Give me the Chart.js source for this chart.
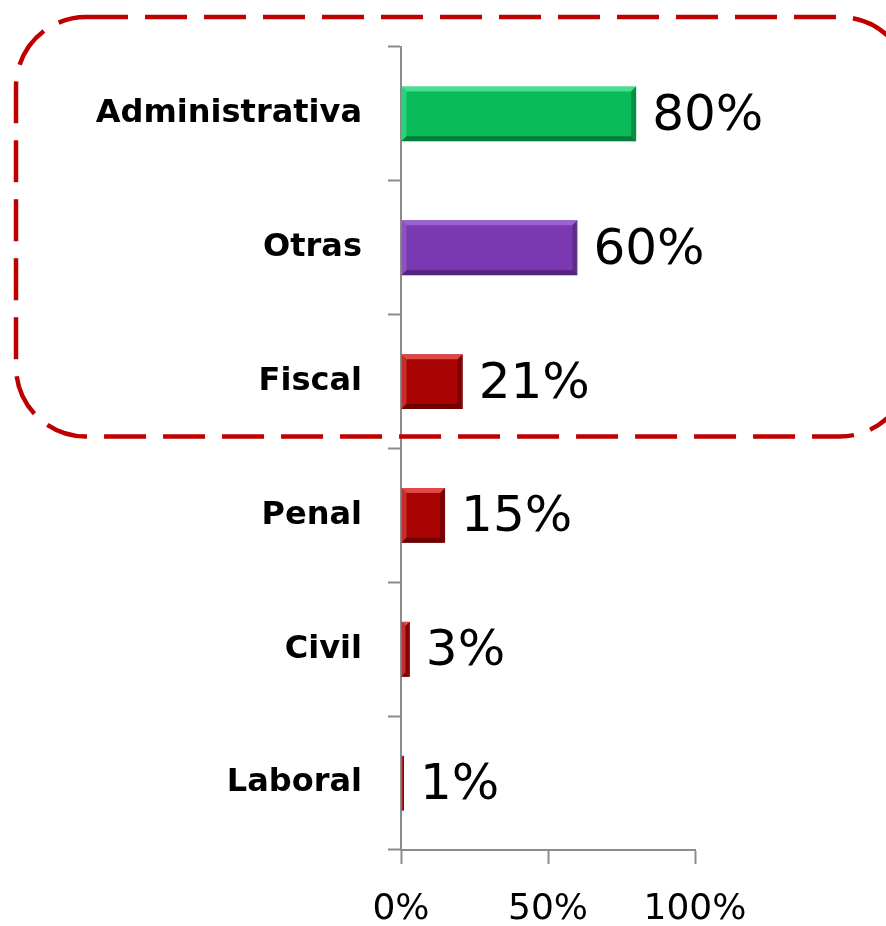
<!DOCTYPE html>
<html>
<head>
<meta charset="utf-8">
<script src="https://cdn.jsdelivr.net/npm/chart.js@4"></script>
<style>
  body { margin: 0; background: #fff; }
  #wrap { width: 886px; height: 926px; }
</style>
</head>
<body>
<div id="wrap"><canvas id="areaChart" width="886" height="926"></canvas></div>
<script>
// datos del gráfico
const categories = ['Administrativa', 'Otras', 'Fiscal', 'Penal', 'Civil', 'Laboral'];
const values = [80, 60, 21, 15, 3, 1];
const xTicks = [0, 50, 100];

// colores de las barras
const barColors = ['#0abb5a', '#7a39b1', '#a70303', '#a70303', '#a70303', '#a70303'];
const lightEdge = ['#45e08e', '#9a62cf', '#e04848', '#e04848', '#e04848', '#e04848'];
const darkEdge = ['#067c3b', '#54237e', '#6e0000', '#6e0000', '#6e0000', '#6e0000'];

// bisel tipo 3D sobre cada barra
const bevelPlugin = {
  id: 'bevel',
  afterDatasetsDraw(chart) {
    const ctx = chart.ctx;
    chart.getDatasetMeta(0).data.forEach((bar, i) => {
      const p = bar.getProps(['x', 'y', 'base', 'height'], true);
      const l = p.base, r = p.x, t = p.y - p.height / 2, b = p.y + p.height / 2;
      const w = r - l;
      const e = Math.min(5, w / 2);
      ctx.save();
      // arriba
      ctx.fillStyle = lightEdge[i];
      ctx.beginPath();
      ctx.moveTo(l, t); ctx.lineTo(r, t); ctx.lineTo(r - e, t + e); ctx.lineTo(l + e, t + e);
      ctx.fill();
      // izquierda
      ctx.globalAlpha = 0.6;
      ctx.beginPath();
      ctx.moveTo(l, t); ctx.lineTo(l + e, t + e); ctx.lineTo(l + e, b - e); ctx.lineTo(l, b);
      ctx.fill();
      ctx.globalAlpha = 1;
      // abajo
      ctx.fillStyle = darkEdge[i];
      ctx.beginPath();
      ctx.moveTo(l, b); ctx.lineTo(r, b); ctx.lineTo(r - e, b - e); ctx.lineTo(l + e, b - e);
      ctx.fill();
      // derecha
      ctx.globalAlpha = 0.7;
      ctx.beginPath();
      ctx.moveTo(r, t); ctx.lineTo(r - e, t + e); ctx.lineTo(r - e, b - e); ctx.lineTo(r, b);
      ctx.fill();
      ctx.restore();
    });
  }
};

// etiquetas de porcentaje al final de la barra
const valueLabels = {
  id: 'valueLabels',
  afterDatasetsDraw(chart) {
    const ctx = chart.ctx;
    ctx.save();
    ctx.font = '50px "DejaVu Sans"';
    ctx.fillStyle = '#000';
    ctx.textBaseline = 'middle';
    ctx.textAlign = 'left';
    chart.getDatasetMeta(0).data.forEach((bar, i) => {
      ctx.fillText(values[i] + '%', bar.x + 16, bar.y + 3);
    });
    ctx.restore();
  }
};

// recuadro punteado alrededor de las tres primeras categorías
const highlightBox = {
  id: 'highlightBox',
  afterDraw(chart) {
    const ctx = chart.ctx;
    const ys = chart.scales.y;
    const half = (ys.getPixelForValue(3) - ys.getPixelForValue(2)) / 2;
    const top = chart.chartArea.top - 30;
    const bottom = ys.getPixelForValue(2) + half - 12;
    const left = 16;
    const right = chart.width + 24;
    ctx.save();
    ctx.strokeStyle = '#c00000';
    ctx.lineWidth = 4.5;
    ctx.setLineDash([42, 17]);
    ctx.beginPath();
    ctx.roundRect(left, top, right - left, bottom - top, 70);
    ctx.stroke();
    ctx.restore();
  }
};

const ctx = document.getElementById('areaChart').getContext('2d');
const areaChart = new Chart(ctx, {
  type: 'bar',
  data: {
    labels: categories,
    datasets: [{
      data: values,
      backgroundColor: barColors,
      borderColor: darkEdge,
      borderWidth: 1,
      barPercentage: 0.41,
      categoryPercentage: 1
    }]
  },
  options: {
    indexAxis: 'y',
    responsive: false,
    animation: false,
    layout: { padding: { top: 47, right: 191, left: 0, bottom: 0 } },
    plugins: {
      legend: { display: false },
      tooltip: { enabled: false }
    },
    scales: {
      x: {
        min: 0,
        max: 100,
        afterBuildTicks(scale) {
          scale.ticks = xTicks.map(v => ({ value: v }));
        },
        afterFit(scale) { scale.height = 76; },
        ticks: {
          callback: v => v + '%',
          color: '#000',
          padding: 24,
          font: { family: 'DejaVu Sans', size: 36 }
        },
        grid: {
          drawOnChartArea: false,
          tickLength: 14,
          tickWidth: 2,
          color: '#8c8c8c'
        },
        border: { color: '#8c8c8c', width: 2 }
      },
      y: {
        afterFit(scale) { scale.width = 401; },
        ticks: {
          color: '#000',
          padding: 26,
          font: { family: 'DejaVu Sans', size: 32, weight: 'bold' }
        },
        grid: {
          drawOnChartArea: false,
          tickLength: 13,
          tickWidth: 2,
          color: '#8c8c8c'
        },
        border: { color: '#8c8c8c', width: 2 }
      }
    }
  },
  plugins: [bevelPlugin, valueLabels, highlightBox]
});
</script>
</body>
</html>
